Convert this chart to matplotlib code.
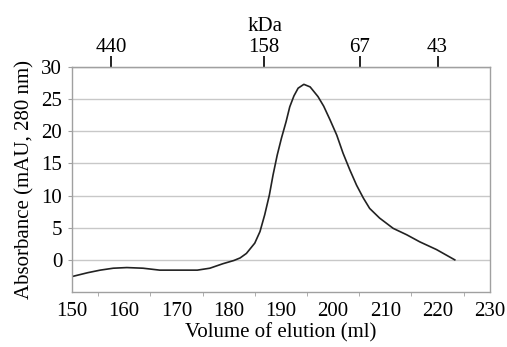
import matplotlib.pyplot as plt

# elution profile
volume_ml = [150, 153, 155.4, 157.9, 160.5, 163.6, 166.8, 174, 176.4, 178.9, 181.0,
             182.2, 183.4, 185.0, 186.0, 186.9, 187.8, 188.5, 189.3, 190.1, 191.0,
             191.7, 192.5, 193.3, 194.4, 195.6, 197.1, 198.2, 199.4, 200.7, 201.9,
             203.2, 204.5, 205.8, 207.0, 208.9, 211.5, 214.1, 216.6, 219.8, 223.3]
absorbance = [-2.6, -2.0, -1.6, -1.3, -1.2, -1.3, -1.6, -1.6, -1.3, -0.6, -0.1,
              0.3, 1.0, 2.6, 4.4, 7.0, 10.1, 13.2, 16.3, 18.9, 21.5,
              23.8, 25.5, 26.7, 27.3, 26.9, 25.4, 23.9, 21.8, 19.4, 16.6,
              14.0, 11.6, 9.6, 8.0, 6.5, 4.9, 3.9, 2.8, 1.6, 0.0]

# molecular weight markers (top axis)
marker_ml = [157.5, 186.7, 205.1, 220.0]
marker_kda = ["440", "158", "67", "43"]

x_ticks = list(range(150, 231, 10))
y_ticks = list(range(0, 31, 5))

plt.rcParams['font.family'] = ['Liberation Serif', 'DejaVu Serif']
plt.rcParams['font.size'] = 15

fig = plt.figure(figsize=(5.07, 3.47), dpi=100)
ax = fig.add_axes([0.142, 0.1585, 0.824, 0.6485])

ax.plot(volume_ml, absorbance, color="#222222", lw=1.2)

ax.set_xlim(150, 230)
ax.set_ylim(-5, 30)
ax.set_xticks(x_ticks)
ax.set_xticks(list(range(155, 230, 10)), minor=True)
ax.set_yticks(y_ticks)

ax.grid(axis="y", color="#c8c8c8", lw=1.0)
ax.set_axisbelow(True)
for sp in ax.spines.values():
    sp.set_color("#a0a0a0")
    sp.set_linewidth(1.0)

ax.tick_params(axis="x", which="both", length=3, color="#a0a0a0", pad=5)
ax.tick_params(axis="x", which="major", length=0, pad=7)
ax.tick_params(axis="y", length=3, color="#a0a0a0", pad=4)

ax.set_xlabel("Volume of elution (ml)", labelpad=2)
ax.set_ylabel("Absorbance (mAU, 280 nm)", labelpad=5)

top = ax.secondary_xaxis("top")
top.set_xticks(marker_ml)
top.set_xticklabels(marker_kda)
top.tick_params(direction="out", length=8, width=1.3, color="#111111", pad=-1)
top.spines["top"].set_color("#a0a0a0")
top.set_xlabel("kDa", x=0.462, labelpad=5)

fig.savefig("out.png", dpi=100)
